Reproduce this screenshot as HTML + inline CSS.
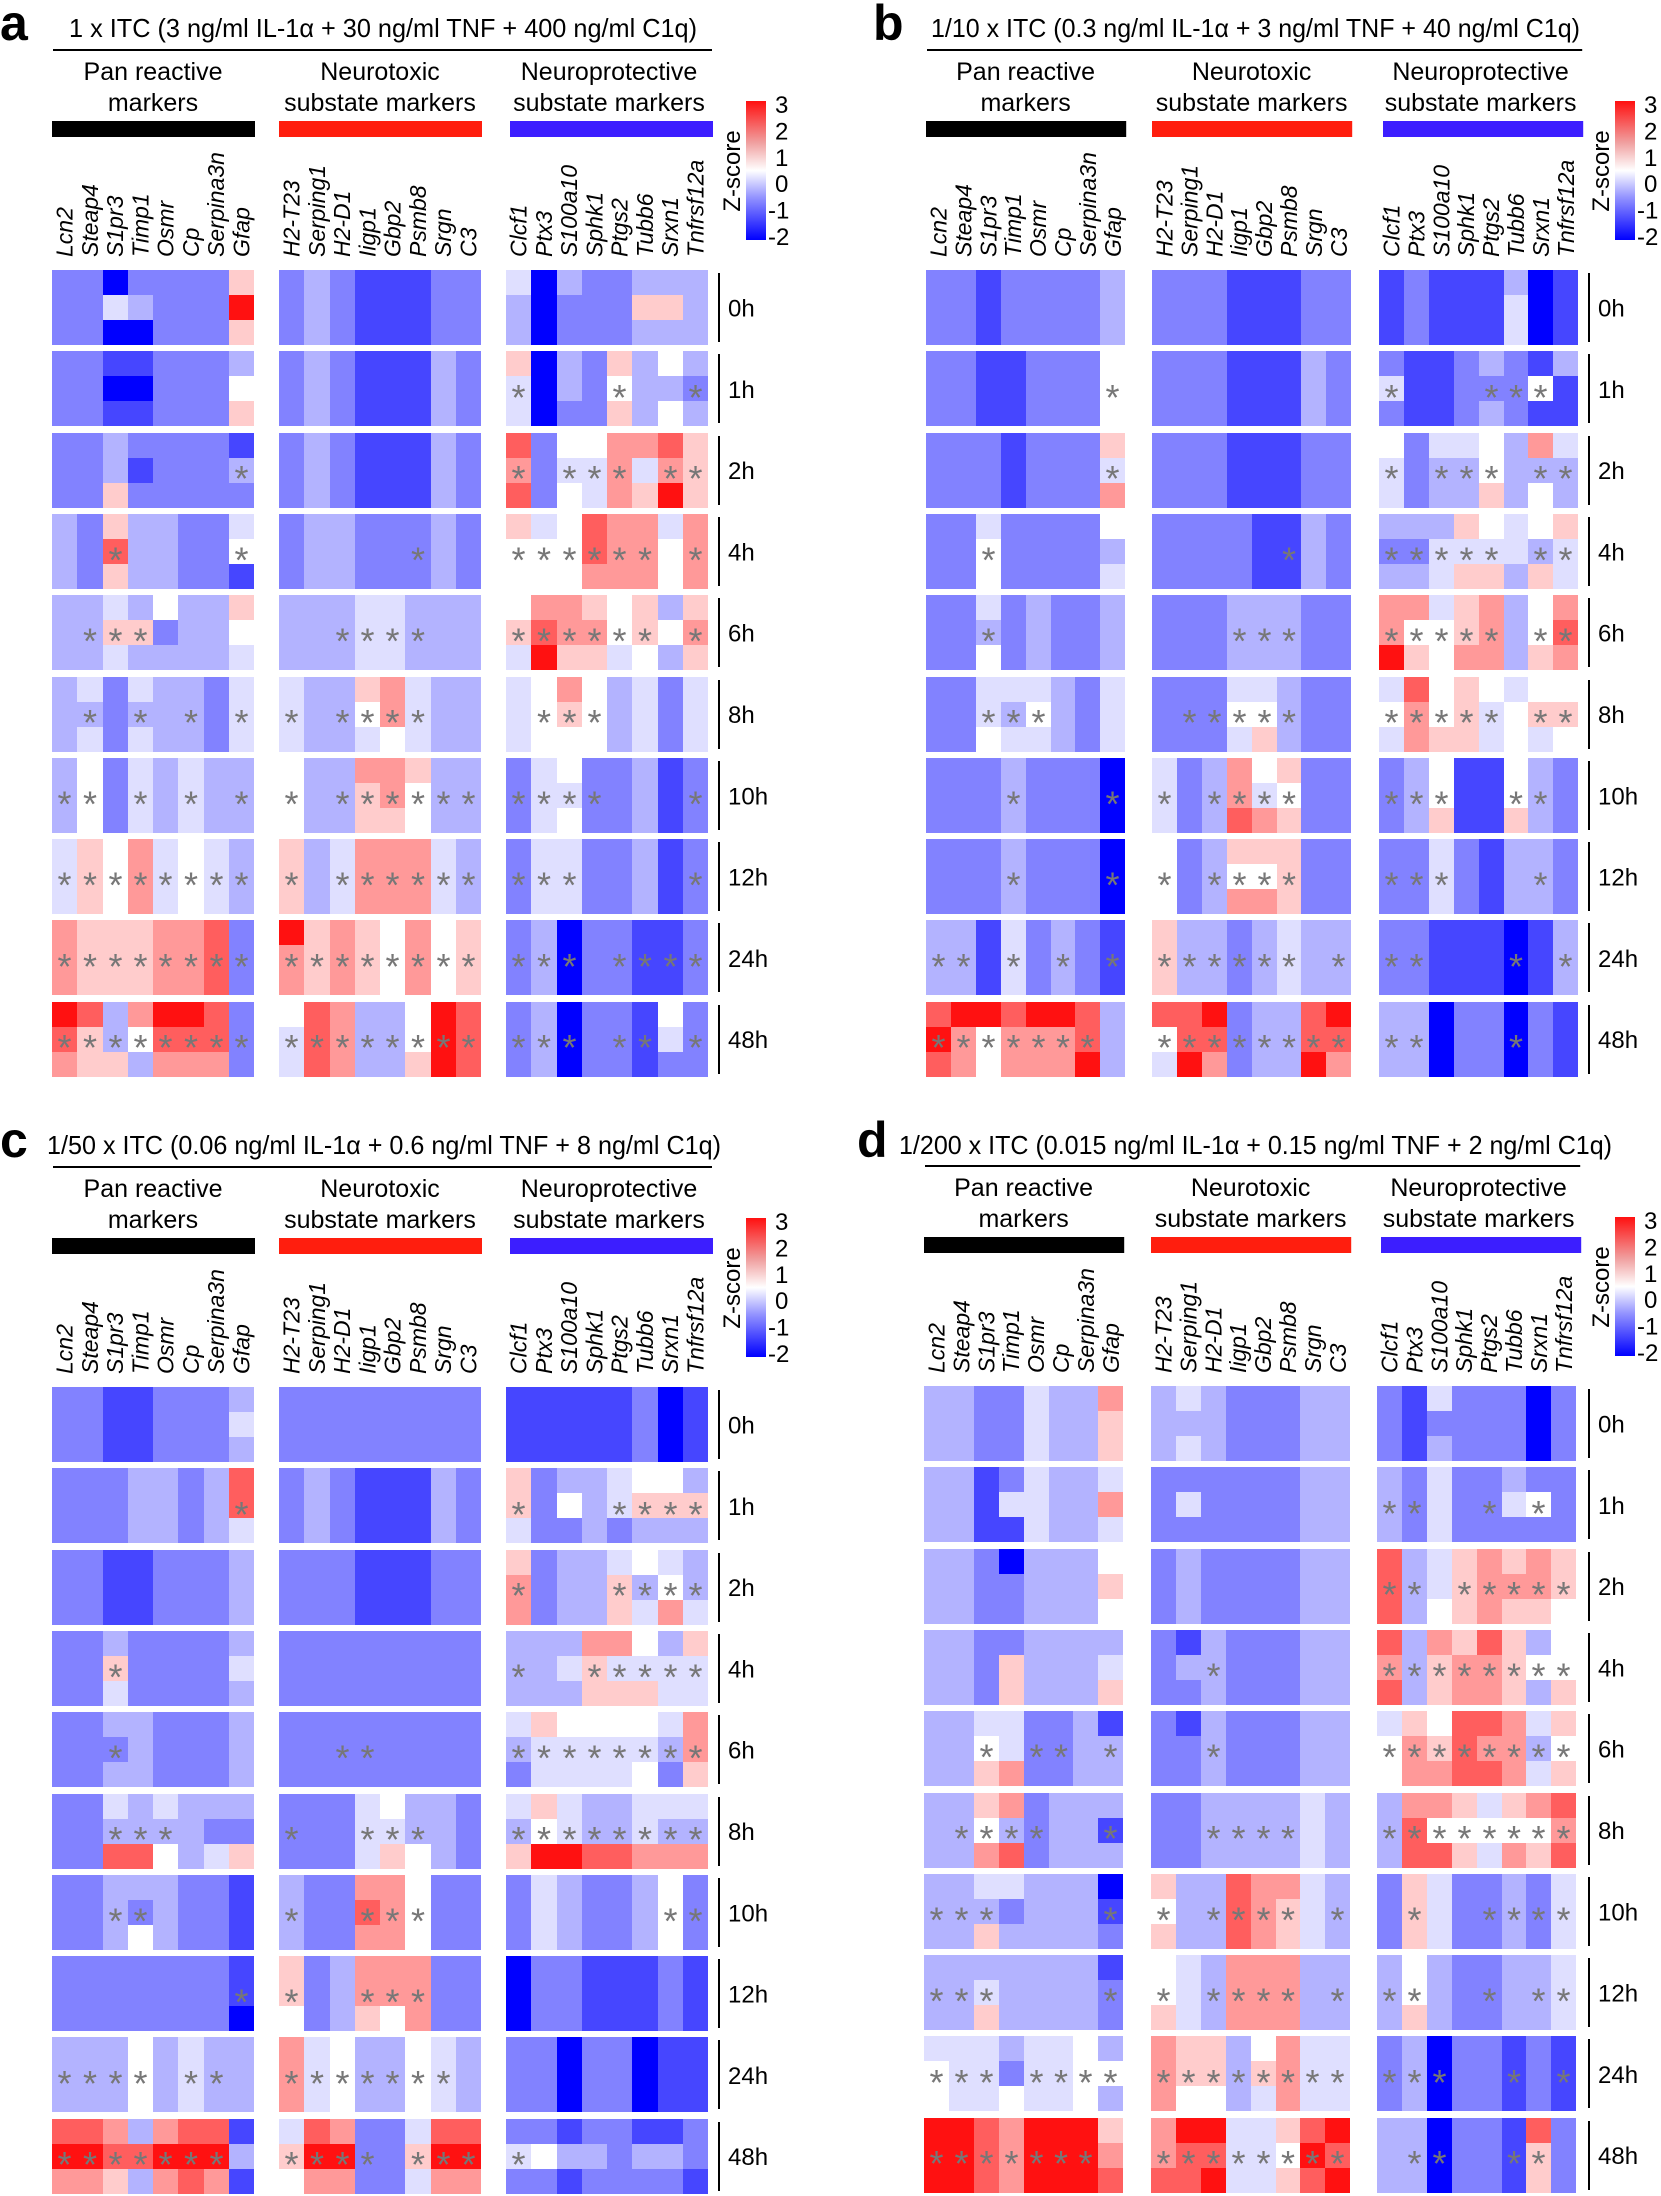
<!DOCTYPE html>
<html><head><meta charset="utf-8">
<style>
html,body{margin:0;padding:0;background:#fff;}
svg{display:block;}
text{font-family:"Liberation Sans",Arial,sans-serif;fill:#000;}
</style></head>
<body>
<svg id="s" xmlns="http://www.w3.org/2000/svg" width="1661" height="2196" viewBox="0 0 1661 2196">
<rect width="1661" height="2196" fill="#fff"/>
<defs>
<linearGradient id="cb" x1="0" y1="0" x2="0" y2="1">
<stop offset="0" stop-color="#ff1010"/>
<stop offset="0.3" stop-color="#f0a0a0"/>
<stop offset="0.5" stop-color="#ffffff"/>
<stop offset="0.7" stop-color="#9090ff"/>
<stop offset="1" stop-color="#0000ff"/>
</linearGradient>
</defs>
<g id="cells"></g>
<g id="txt"></g>
<text x="0" y="40" font-size="50" font-weight="bold">a</text>
<text x="873" y="40" font-size="50" font-weight="bold">b</text>
<text x="0" y="1157" font-size="50" font-weight="bold">c</text>
<text x="857" y="1157" font-size="50" font-weight="bold">d</text>
<text x="69" y="37" font-size="26" textLength="628" lengthAdjust="spacingAndGlyphs">1 x ITC (3 ng/ml IL-1α + 30 ng/ml TNF + 400 ng/ml C1q)</text>
<text x="931" y="37" font-size="26" textLength="649" lengthAdjust="spacingAndGlyphs">1/10 x ITC (0.3 ng/ml IL-1α + 3 ng/ml TNF + 40 ng/ml C1q)</text>
<text x="47" y="1154" font-size="26" textLength="674" lengthAdjust="spacingAndGlyphs">1/50 x ITC (0.06 ng/ml IL-1α + 0.6 ng/ml TNF + 8 ng/ml C1q)</text>
<text x="899" y="1154" font-size="26" textLength="713" lengthAdjust="spacingAndGlyphs">1/200 x ITC (0.015 ng/ml IL-1α + 0.15 ng/ml TNF + 2 ng/ml C1q)</text>
</svg>
<script>
(function(){
var NS="http://www.w3.org/2000/svg";
var cellsG=document.getElementById("cells"), txtG=document.getElementById("txt");
function el(tag,attrs,parent,text){var e=document.createElementNS(NS,tag);for(var k in attrs)e.setAttribute(k,attrs[k]);if(text!==undefined)e.textContent=text;(parent||txtG).appendChild(e);return e;}
var V={A:-2,B:-1.45,C:-0.98,D:-0.6,E:-0.25,F:0,G:0.6,H:1.2,I:1.9,J:2.8};
function col(v){if(v<0){var t=Math.min(1,-v/2);var c=Math.round(255*(1-t));return "rgb("+c+","+c+",255)";}
 var t2=Math.min(1,v/3);var c2=Math.round(255*(1-t2));return "rgb(255,"+c2+","+c2+")";}
function parse(s){s=s.replace(/\s/g,"");var out=[];for(var i=0;i<s.length;){if(s[i]=="["){out.push([s[i+1],s[i+2],s[i+3]]);i+=5;}else{out.push([s[i],s[i],s[i]]);i++;}}return out;}
var genes=[["Lcn2","Steap4","S1pr3","Timp1","Osmr","Cp","Serpina3n","Gfap"],
["H2-T23","Serping1","H2-D1","Iigp1","Gbp2","Psmb8","Srgn","C3"],
["Clcf1","Ptx3","S100a10","Sphk1","Ptgs2","Tubb6","Srxn1","Tnfrsf12a"]];
var times=["0h","1h","2h","4h","6h","8h","10h","12h","24h","48h"];
var P=[
{dy:0,blocks:[52,279,506],cw:25.25,line:718,cb:746,
data:[
["CC[AEA][CDA]CCC[GJG]","CDCBBBCC","[EDD]A[DCC]CC[DGD][DGD]D"],
["CC[BAB][BAB]CCC[DFG]","CDCBBBDC","[GEE]A[DDC]C[GFG]D[FDF][DCD]"],
["CC[DDG][CBC]CCC[BDC]","CDCBBBDC","[IHI]C[FEF][FEE][HHH][HEG][IHJ][GGG]"],
["DC[GIG]DDCC[EFB]","CDDCCCDC","[GFF][EFF][FFF][IIH][HHH][HHH][EFF][HHH]"],
["DD[EGE][DGD][FCD]DD[GFE]","DDDEEDDD","[FGE][HIJ][HHG][GHG][FFE][GGF][DFD][GHG]"],
["D[EDE]C[EDE]DDCE","EDD[GFE][HHF]EDD","EF[HGF]FDECE"],
["DFCEDEDD","FDD[HGG][HHG][GFF]DD","CE[FEF]CCDBC"],
["EGFHEFED","GDEHHHED","CEECCDBC"],
["HGGGHHIC","[JHH]GHGFHFG","CDACCBBC"],
["[JIH][IGG][DDG][HFD][JIH][JIH][IIH]C","[FEE]IHDD[FFG]JI","CDACCB[FEC]C"]],
stars:["........................","................*...*..*",".......*........*.***.**","..*....*.....*..******.*",
".***......****..******.*",
".*.*.*.**.****...***....",
"**.*.*.**.******"+"****...*",
"*********.******"+"***....*",
"****************"+"***.****",
"****************"+"***.**.*"]},
{dy:0,blocks:[926,1152,1379],cw:24.9,line:1588,cb:1615,
data:[
["CCBCCCCD","CCCBBBCC","BCBBB[DEE]AB"],
["CCBBCCCF","CCCBBBDC","[CEC]BBC[DCD]C[BFB][DBB]"],
["CCCBCCC[GEH]","CCCBBBCC","[FEE]C[EDD][EDD][FFG]D[HDF][EDD]"],
["CC[EFF]CCCC[FDE]","CCCCBBDC","[DCD][DCD][DEE][GEG][FEG][EED][FDG][GEE]"],
["CC[EDF]CDCCD","CCCDDDCC","[HHJ][HFG][EFF][GGH][HHH]D[FFG][HIH]"],
["CC[EEF][EDE][EFE]DCE","CCC[EFE][EFG]DCC","[EFE][IHH][FFG][GGG][FEE][EFF][FGE][FGF]"],
["CCCDCCCA","ECD[HHI][FEH][GFG]CC","CD[FFG]BB[FFG]DC"],
["CCCDCCCA","FCD[GFH][GFH][GGG]CC","CCECBDDC"],
["DDBECDCB","GDDCDEDD","CCBBBABD"],
["[IJI][JHH][JFF][IHH][JHH][JHH][IIJ]D","[IFE][IIJ][JIH]CDD[IIJ][JIH]","DDACCACB"]],
stars:["........................",".......*........*...***.",".......*........*.***.**","..*..........*..*****.**",
"..*........***..*****.**","..***....*****..*****.**","...*...**.****..***..**.","...*...**.****..***...*.",
"**.*.*.*******.***...*.*","*******.**********...*.."]},
{dy:1117,blocks:[52,279,506],cw:25.25,line:718,cb:746,
data:[
["CCBBCCC[DED]","CCCCCCCC","BBBBBCAB"],
["CCCDDCD[IIE]","CDCBBBDC","[GGE]C[DFC]D[EEC][FGD][FGD][DGD]"],
["CCBBCCCD","CCCBBBCC","[GHH]CDD[EGG][FDE][EFH][DDE]"],
["CC[DGE]CCCC[DED]","CCCCCCCC","DD[DED][HGG][HEG][FEG][DEE][GEE]"],
["CC[DCD]DCCCD","CCCCCCCC","[EDC][GEE][FEE][FEE][FEE][FEF][EDC][HHG]"],
["CC[EDI][DDI][EDF]D[DCE][DCG]","CCC[EEE][FEG][DDF]DC","[EDG][GFJ][EEJ][DDI][DDI][EEH][EDH][EDH]"],
["CCD[DCF]DCCB","DCC[HIH][HHH]FCC","CEDCCDFC"],
["CCCCCCC[BBA]","[GGF]CD[HHG][HHF][HHH]CC","ACCBBBCB"],
["DDDFDEDD","HEFDDFED","CCACCABB"],
["[IJH][IJH][HIG][DID][HJH][IJI][IJH][BDB]","[EGF][IJH][HJH]CC[EGE][IJH][IJH]","[CEC][CFC][BDB][CDC]C[BDC][BDC][CCB]"]],
stars:["........................",".......*........*...****","................*...****","..*.............*..*****",
"..*.......**....********","..***...*..***..********","..**....*..***........**",".......**..***..........",
"****.**.*******.........","*******.****.****......."]},
{dy:1116,blocks:[924,1151,1377],cw:24.9,line:1588,cb:1615,
data:[
["DDCCEDD[HGG]","D[EDE]DCCCDD","CB[ECD]CCCAC"],
["DDB[CEB]EDD[EHE]","C[CEC]CCCCDD","DCECC[DEC][CFC]C"],
["DDC[ACC]DDD[FGF]","CDCCCCDD","[III]D[EEF][GGG][HHH][GHG][HHG][GGF]"],
["DDC[CGG]DDD[DEG]","C[BDC]DCCCDD","[IHI]D[HGG][GHH][IHH][GGG][DFD][FFG]"],
["DD[EFG][EEH]CCD[BDD]","C[BCC]DCCCDD","[EFF][GHH][FGH][III][IHI][HHH][EDE][GFG]"],
["DD[GFH][HDI]CDD[DBD]","CCDDDDED","D[HII][HFI][GFG][EFE][GFH][HFG][IHI]"],
["DD[EDG][ECD]DDD[ABC]","[GFG]DDIH[HGG]ED","CGECCDCE"],
["DD[DEG]DDDD[BCC]","[FFG]EDHHHDD","D[FFG]DCCDDE"],
["[EFF]EE[DCF]EEF[DFD]","H[GGF][GGF]D[FGE]HEE","CDACCBCB"],
["JJIHJJJ[GHI]","[HHI][JII][JIJ]EE[GFG][IJI][JIJ]","DDACCB[IGG]C"]],
stars:["........................","................**..*.*.","................**.*****","..........*.....********",
"..*.**.*..*.....********",".****..*..****..********","***....**.****.*.*..****","***....**.****.***..*.**",
"***.*******************.".slice(0,16)+"***..*.*","*******.********.**..**."]}
];
P[3].stars[8]="***.****"+"********"+"***..*.*";
var y0=270,pitch=81.3,rh=75;
P.forEach(function(p,pi){
 var dy=p.dy;
 for(var r=0;r<10;r++){
  var top=y0+dy+r*pitch;
  for(var b=0;b<3;b++){
   var cells=parse(p.data[r][b]);
   for(var c=0;c<8;c++){
    var cl=cells[c];if(!cl)continue;
    var x1=Math.round(p.blocks[b]+c*p.cw),x2=Math.round(p.blocks[b]+(c+1)*p.cw);
    for(var s=0;s<3;s++){
     var ya=Math.round(top+s*rh/3),yb=Math.round(top+(s+1)*rh/3);
     el("rect",{x:x1,y:ya,width:x2-x1,height:yb-ya,fill:col(V[cl[s]]||0),"shape-rendering":"crispEdges"},cellsG);
    }
    var st=p.stars[r]||"";
    if(st[b*8+c]=="*"){
     el("text",{x:(x1+x2)/2,y:top+rh/2+21,"font-size":36,"text-anchor":"middle",style:"fill:#777"},txtG,"*");
    }
   }
  }
  el("rect",{x:p.line,y:Math.round(top+3),width:2,height:rh-6,fill:"#000"});
  el("text",{x:p.line+10,y:top+rh/2+9,"font-size":24},txtG,times[r]);
 }
 for(var b=0;b<3;b++){
  var bx=p.blocks[b],bw=8*p.cw,cx=bx+bw/2+(b==2?2:0);
  var h1=["Pan reactive","Neurotoxic","Neuroprotective"][b],h2=["markers","substate markers","substate markers"][b];
  el("text",{x:cx,y:80+dy,"font-size":25,"text-anchor":"middle"},txtG,h1);
  el("text",{x:cx,y:111+dy,"font-size":25,"text-anchor":"middle"},txtG,h2);
  var barx=bx+(b==2?4:0);
  el("rect",{x:barx,y:121+dy,width:bw+1,height:16,fill:["#000","#ff1e0e","#3c1eff"][b]});
  for(var c=0;c<8;c++){
   var gx=bx+(c+0.5)*p.cw+8;
   el("text",{x:0,y:0,"font-size":23,"font-style":"italic",transform:"translate("+gx+","+(257+dy)+") rotate(-90)"},txtG,genes[b][c]);
  }
 }
 el("rect",{x:p.blocks[0]+1,y:49+dy,width:(p.blocks[2]+8*p.cw+4)-(p.blocks[0]+1),height:2,fill:"#000"});
 el("rect",{x:p.cb,y:101+dy,width:20,height:139,fill:"url(#cb)"});
 ["3","2","1","0","-1","-2"].forEach(function(t,i){
  el("text",{x:p.cb+(t[0]=="-"?22:29),y:104+dy+i*26.4+9,"font-size":24},txtG,t);
 });
 el("text",{x:0,y:0,"font-size":24,"text-anchor":"middle",transform:"translate("+(p.cb-6)+","+(171+dy)+") rotate(-90)"},txtG,"Z-score");
});
})();
</script>
</body></html>
